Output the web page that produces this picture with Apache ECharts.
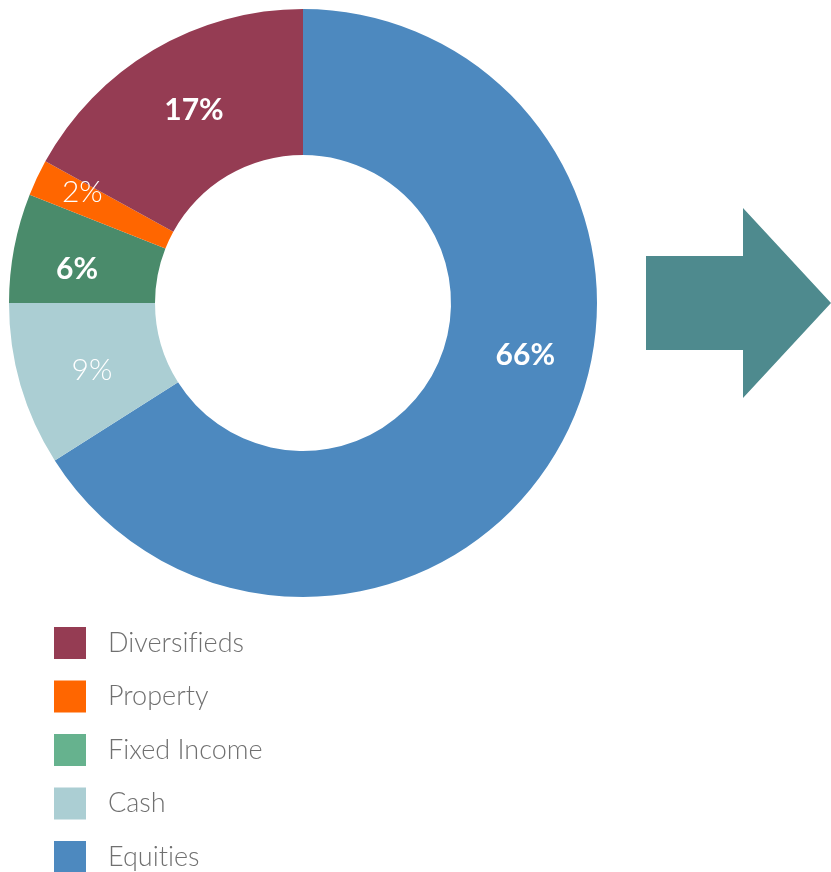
<!DOCTYPE html>
<html>
<head>
<meta charset="utf-8">
<script src="https://cdn.jsdelivr.net/npm/echarts@6/dist/echarts.min.js"></script>
<style>
  html, body { margin: 0; padding: 0; background: #fff; }
  #chart { width: 831px; height: 872px; }
</style>
</head>
<body>
<div id="chart"></div>
<script>
// slice order as drawn clockwise from 12 o'clock
const sliceNames = ['Equities', 'Cash', 'Fixed Income', 'Property', 'Diversifieds'];
const sliceValues = [66, 9, 6, 2, 17];
const sliceColors = ['#4D89BF', '#ABCED3', '#4A8B6B', '#FF6600', '#953C53'];
const labelBold = [true, false, true, false, true];
// label nudges off the mid point of each slice
const labelOffsets = [[26, -56], [4, 5], [-6, 8], [-18, -15], [5, 0]];

// legend order + swatch colours (fixed income swatch is lighter than the slice)
const legendNames = ['Diversifieds', 'Property', 'Fixed Income', 'Cash', 'Equities'];
const legendColors = ['#953C53', '#FF6600', '#66B28E', '#ABCED3', '#4D89BF'];

const myChart = echarts.init(document.getElementById('chart'));

const pieData = sliceNames.map((name, i) => ({
    name: name,
    value: sliceValues[i],
    itemStyle: { color: sliceColors[i] },
    label: {
        fontWeight: labelBold[i] ? 'bold' : 300,
        offset: labelOffsets[i]
    }
}));

const option = {
    animation: false,
    legend: {
        orient: 'vertical',
        left: 54,
        top: 627,
        height: 320,
        padding: 0,
        itemWidth: 32,
        itemHeight: 32,
        itemGap: 21.5,
        icon: 'rect',
        // keep Lato from joining "ti" / "fi" into ligatures
        formatter: name => name.replace(/([tf])(i)/g, '$1\u200C$2'),
        textStyle: {
            fontFamily: 'Lato',
            fontWeight: 300,
            fontSize: 27,
            color: '#707070',
            padding: [0, 0, 0, 17]
        },
        data: legendNames.map((name, i) => ({
            name: name,
            itemStyle: { color: legendColors[i] }
        }))
    },
    graphic: [
        {
            // decorative arrow to the right of the donut
            type: 'polygon',
            shape: {
                points: [[646, 256], [743, 256], [743, 208], [831, 303], [743, 398], [743, 350], [646, 350]]
            },
            style: { fill: '#4E8A8E' }
        }
    ],
    series: [
        {
            type: 'pie',
            center: [303, 303],
            radius: [148, 294],
            startAngle: 90,
            clockwise: true,
            silent: true,
            label: {
                show: true,
                position: 'inside',
                formatter: '{c}%',
                color: '#fff',
                fontFamily: 'Lato',
                fontSize: 30
            },
            labelLine: { show: false },
            data: pieData
        }
    ]
};

option && myChart.setOption(option);
</script>
</body>
</html>
